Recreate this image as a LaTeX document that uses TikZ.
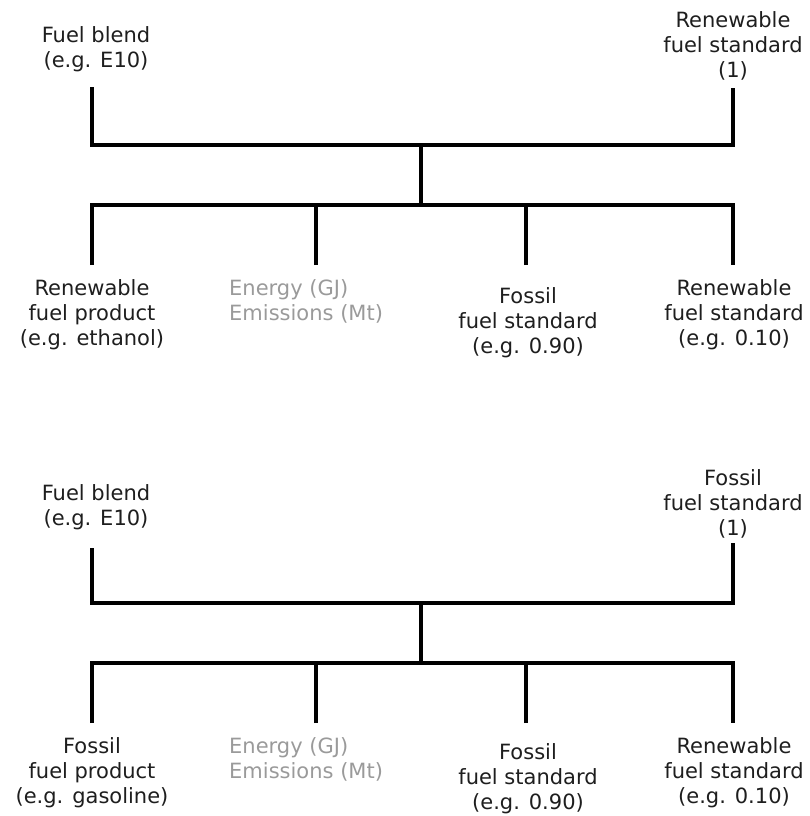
\documentclass[tikz,border=0pt]{standalone}
\usepackage{fontspec}
\setmainfont{DejaVu Sans}
\definecolor{lbl}{HTML}{1E1E1E}
\definecolor{soft}{HTML}{9A9A9A}
\begin{document}
\begin{tikzpicture}[x=1pt,y=-1pt,
  lab/.style={align=center,inner sep=0pt,anchor=north,font=\fontsize{21}{25}\selectfont,text=lbl},
  gl/.style={align=left,inner sep=0pt,anchor=north west,font=\fontsize{21}{25}\selectfont,text=soft},
  wire/.style={line width=3.5pt,line join=miter,draw=black}]
\useasboundingbox (0,0) rectangle (809,816);

% ---------- upper tree ----------
\node[lab] (uA) at (96,26) {Fuel blend\\(e.g. E10)};
\node[lab] (uB) at (733,11) {Renewable\\fuel standard\\(1)};
\coordinate (uAe) at (92,87);
\coordinate (uBe) at (733,88);
\coordinate (uJ) at (421,145);
\coordinate (uK) at (421,205);
\coordinate (uD1) at (92,265);
\coordinate (uD2) at (316,265);
\coordinate (uD3) at (526,265);
\coordinate (uD4) at (733,265);
\draw[wire] (uAe) |- (uJ) -| (uBe);
\draw[wire] (uJ) -- (uK);
\draw[wire] (uD1) |- (uK) -| (uD4);
\draw[wire] (uD2) -- (uD2 |- uK);
\draw[wire] (uD3) -- (uD3 |- uK);
\node[lab] (uC1) at (92,279) {Renewable\\fuel product\\(e.g. ethanol)};
\node[gl]  (uC2) at (229,279) {Energy (GJ)\\Emissions (Mt)};
\node[lab] (uC3) at (528,287) {Fossil\\fuel standard\\(e.g. 0.90)};
\node[lab] (uC4) at (734,279) {Renewable\\fuel standard\\(e.g. 0.10)};

% ---------- lower tree ----------
\begin{scope}[yshift=-458pt]
\node[lab] (lA) at (96,26) {Fuel blend\\(e.g. E10)};
\node[lab] (lB) at (733,11) {Fossil\\fuel standard\\(1)};
\coordinate (lAe) at (92,90);
\coordinate (lBe) at (733,85);
\coordinate (lJ) at (421,145);
\coordinate (lK) at (421,205);
\coordinate (lD1) at (92,265);
\coordinate (lD2) at (316,265);
\coordinate (lD3) at (526,265);
\coordinate (lD4) at (733,265);
\draw[wire] (lAe) |- (lJ) -| (lBe);
\draw[wire] (lJ) -- (lK);
\draw[wire] (lD1) |- (lK) -| (lD4);
\draw[wire] (lD2) -- (lD2 |- lK);
\draw[wire] (lD3) -- (lD3 |- lK);
\node[lab] (lC1) at (92,279) {Fossil\\fuel product\\(e.g. gasoline)};
\node[gl]  (lC2) at (229,279) {Energy (GJ)\\Emissions (Mt)};
\node[lab] (lC3) at (528,285) {Fossil\\fuel standard\\(e.g. 0.90)};
\node[lab] (lC4) at (734,279) {Renewable\\fuel standard\\(e.g. 0.10)};
\end{scope}
\end{tikzpicture}
\end{document}
